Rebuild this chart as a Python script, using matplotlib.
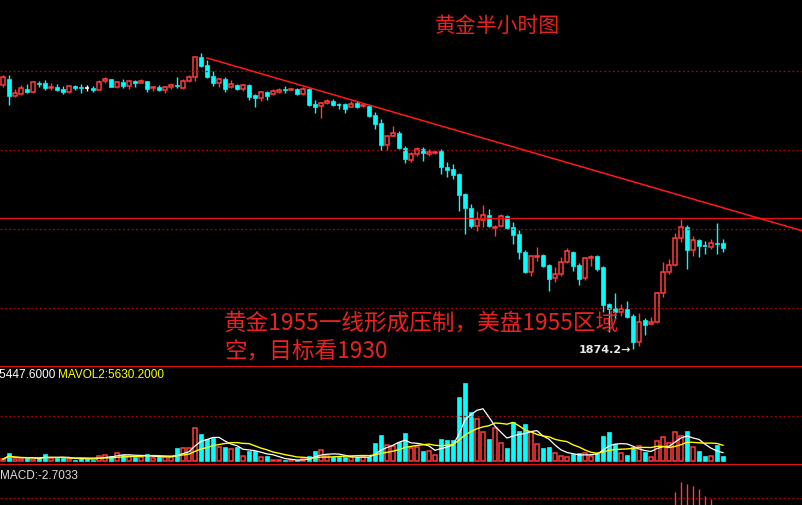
import numpy as np
import pandas as pd
import matplotlib
matplotlib.use("Agg")
import matplotlib.pyplot as plt

# 30-min gold candles (smaller = higher price)
opens = [86, 80, 97, 95, 90, 93, 84, 84, 89, 88, 90, 93, 87, 88, 89, 89, 91, 82, 80, 88,
         83, 87, 82, 84, 82, 89, 88, 91, 88, 86, 89, 82, 78, 58, 66, 77, 84, 80, 88, 86,
         90, 86, 96, 99, 93, 95, 93, 90, 91, 90, 95, 90, 105, 107, 104, 102, 106, 105, 108, 104,
         107, 107, 116, 124, 146, 137, 134, 149, 161, 155, 150, 155, 154, 152, 168, 170, 175, 195, 209, 227,
         221, 216, 229, 227, 217, 228, 235, 253, 273, 258, 256, 266, 279, 275, 263, 253, 266, 279, 259, 257,
         268, 305, 309, 313, 310, 317, 343, 321, 325, 323, 294, 273, 266, 239, 228, 251, 241, 247, 248, 244,
         244]
closes = [78, 97, 94, 89, 93, 83, 85, 89, 88, 91, 93, 87, 89, 89, 89, 91, 83, 80, 88, 83,
          87, 82, 84, 82, 90, 88, 91, 88, 86, 87, 82, 78, 58, 67, 78, 84, 80, 90, 85, 90,
          86, 98, 99, 93, 97, 92, 91, 91, 90, 95, 90, 106, 108, 104, 102, 106, 106, 110, 105, 108,
          106, 117, 125, 146, 137, 134, 149, 160, 155, 150, 154, 153, 153, 168, 171, 176, 196, 209, 227, 220,
          216, 227, 228, 217, 229, 236, 253, 273, 257, 257, 267, 280, 275, 263, 252, 267, 280, 259, 258, 270,
          306, 310, 313, 310, 318, 343, 323, 326, 323, 294, 273, 266, 239, 228, 251, 241, 247, 247.5, 244, 245,
          249]
highs = [76, 76, 90, 86, 85, 82, 82, 81, 84, 85, 87, 86, 86, 85, 86, 87, 81, 78, 80, 82,
         80, 81, 81, 80, 82, 87, 86, 87, 85, 78, 80, 76, 58, 54, 61, 72, 79, 78, 81, 85,
         85, 85, 95, 92, 92, 90, 89, 87, 89, 89, 88, 89, 101, 103, 100, 100, 104, 104, 102, 102,
         105, 106, 113, 120, 136, 127, 132, 147, 153, 148, 148, 150, 152, 150, 163, 165, 174, 194, 205, 212,
         206, 210, 226, 215, 216, 223, 231, 251, 256, 248, 255, 265, 268, 258, 249, 252, 264, 258, 256, 256,
         267, 304, 294, 305, 302, 315, 314, 319, 318, 293, 263, 260, 234, 220, 226, 237, 240, 242, 240, 224,
         240]
lows = [88, 106, 98, 96, 94, 94, 88, 91, 91, 92, 95, 94, 91, 94, 92, 93, 91, 84, 88, 89,
        89, 90, 88, 84, 93, 92, 92, 94, 90, 89, 90, 83, 82, 68, 79, 87, 88, 93, 89, 91,
        92, 101, 108, 102, 101, 96, 94, 94, 91, 96, 96, 107, 114, 119, 105, 107, 110, 114, 108, 109,
        108, 118, 130, 151, 151, 136, 150, 164, 163, 157, 162, 157, 155, 175, 178, 180, 212, 235, 229, 232,
        228, 228, 237, 228, 230, 245, 260, 274, 277, 262, 268, 292, 283, 277, 264, 272, 286, 281, 267, 272,
        313, 333, 320, 317, 319, 350, 347, 336, 326, 324, 298, 275, 267, 243, 270, 257, 258, 255, 250, 255,
        253]
vol_read = [5, 22, 5, 6, 8, 6, 8, 20, 8, 8, 8, 6, 3, 8, 5, 3, 15, 18, 15, 22,
            18, 15, 12, 12, 20, 8, 10, 10, 10, 38, 38, 38, 97, 80, 65, 68, 40, 42, 35, 40,
            15, 30, 30, 12, 15, 2, 2, 1, 2, 3, 5, 15, 30, 32, 15, 10, 12, 12, 10, 10,
            10, 10, 53, 77, 47, 45, 55, 83, 38, 40, 30, 30, 17, 65, 62, 62, 191, 233, 145, 125,
            85, 65, 98, 53, 38, 117, 88, 110, 85, 50, 38, 40, 22, 13, 10, 20, 22, 22, 15, 22,
            75, 87, 50, 22, 17, 42, 45, 25, 10, 60, 70, 52, 86, 73, 90, 40, 30, 15, 13, 48,
            15]
vol_unit = 125
macd_idx = [112, 113, 114, 115, 116, 117, 118]
macd_hist = [27, 37, 35, 33, 30, 23, 20]

title = "黄金半小时图"
note = "黄金1955一线形成压制，美盘1955区域\n空，目标看1930"
low_label = "1874.2→"

UP = "#ff3c3c"
DOWN = "#00ffff"
GRID = "#b00000"
plt.rcParams["font.family"] = ["Noto Sans CJK SC", "DejaVu Sans"]

o = np.array(opens, float); c = np.array(closes, float)
h = np.array(highs, float); l = np.array(lows, float)
n = len(o)
x = np.arange(n)
vol = np.array(vol_read, float) * vol_unit
up = c < o

W, H = 803, 506
fig = plt.figure(figsize=(W / 100, H / 100), dpi=100, facecolor="black")
ax = fig.add_axes([0, (H - 367) / H, 1, 367 / H])
axv = fig.add_axes([0, (H - 466) / H, 1, 99 / H])
axm = fig.add_axes([0, 0, 1, 40 / H])
xlim = (-0.5, (W - 3) / 6)
for a in (ax, axv, axm):
    a.set_facecolor("black")
    a.set_xlim(*xlim)
    a.set_xticks([]); a.set_yticks([])
    for s in a.spines.values():
        s.set_visible(False)

# price panel
ax.set_ylim(367, 0)
for yy in (72, 151, 230, 309):
    ax.axhline(yy, color=GRID, lw=0.9, ls=(0, (1.5, 2)))
ax.axhline(219, color="#e01010", lw=1)
for i in range(n):
    col = UP if up[i] else DOWN
    if i == 14:
        col = "white"
    top, bot = min(o[i], c[i]), max(o[i], c[i])
    ax.vlines(x[i], h[i], top, color=col, lw=1)
    ax.vlines(x[i], bot, l[i], color=col, lw=1)
    if bot - top < 1:
        ax.hlines(top, x[i] - 0.4, x[i] + 0.4, color=col, lw=1.2)
    elif up[i]:
        ax.add_patch(plt.Rectangle((x[i] - 0.36, top), 0.72, bot - top, fill=False, ec=col, lw=1.1))
    else:
        ax.add_patch(plt.Rectangle((x[i] - 0.38, top), 0.76, bot - top, fc=col, ec=col, lw=0.5))
# resistance trend line from the swing high
ax.plot([34, xlim[1]], [59, 232], color="#ff1a1a", lw=1.1)
ax.text(494 / 6, 26, title, color="#e8231e", fontsize=15, ha="center", va="center")
ax.text(221 / 6, 312, note, color="#e8231e", fontsize=16.3, ha="left", va="top", linespacing=1.3)
ax.text(105 - 0.3, 350, low_label, color="#e8e8e8", fontsize=8, fontweight="bold",
        ha="right", va="center", family="DejaVu Sans")

# volume panel
axv.set_ylim(-4.3 * 3 * vol_unit, 94.7 * 3 * vol_unit)
axv.axhline(45 * 3 * vol_unit, color=GRID, lw=0.9, ls=(0, (1.5, 2)))
for i in range(n):
    if up[i]:
        axv.add_patch(plt.Rectangle((x[i] - 0.33, 0), 0.66, vol[i], fill=False, ec=UP, lw=1.1))
    else:
        axv.add_patch(plt.Rectangle((x[i] - 0.38, 0), 0.76, vol[i], fc=DOWN, ec=DOWN, lw=0.5))
ma5 = pd.Series(vol).rolling(5, min_periods=1).mean()
ma10 = pd.Series(vol).rolling(10, min_periods=1).mean()
axv.plot(x, ma5, color="white", lw=0.9)
axv.plot(x, ma10, color="#ffff00", lw=1)
axv.axhline(axv.get_ylim()[1], color="#e01010", lw=1.5)
axv.axhline(axv.get_ylim()[0], color="#e01010", lw=1.5)
axv.text(52 / 6, 87 * 3 * vol_unit, "MAVOL1:5447.6000", color="white", fontsize=8.5,
         ha="right", va="center", family="Liberation Sans")
axv.text(55 / 6, 87 * 3 * vol_unit, "MAVOL2:5630.2000", color="#ffff00", fontsize=8.5,
         ha="left", va="center", family="Liberation Sans")

# MACD panel
axm.set_ylim(14, 54)
axm.axhline(21, color=GRID, lw=0.9, ls=(0, (1.5, 2)))
axm.vlines(macd_idx, 0, macd_hist, color=UP, lw=1)
axm.text(-0.5, 44, "MACD:-2.7033", color="#dddddd", fontsize=8.5, ha="left", va="center",
         family="Liberation Sans")

fig.savefig("out.png", dpi=100, facecolor="black")
